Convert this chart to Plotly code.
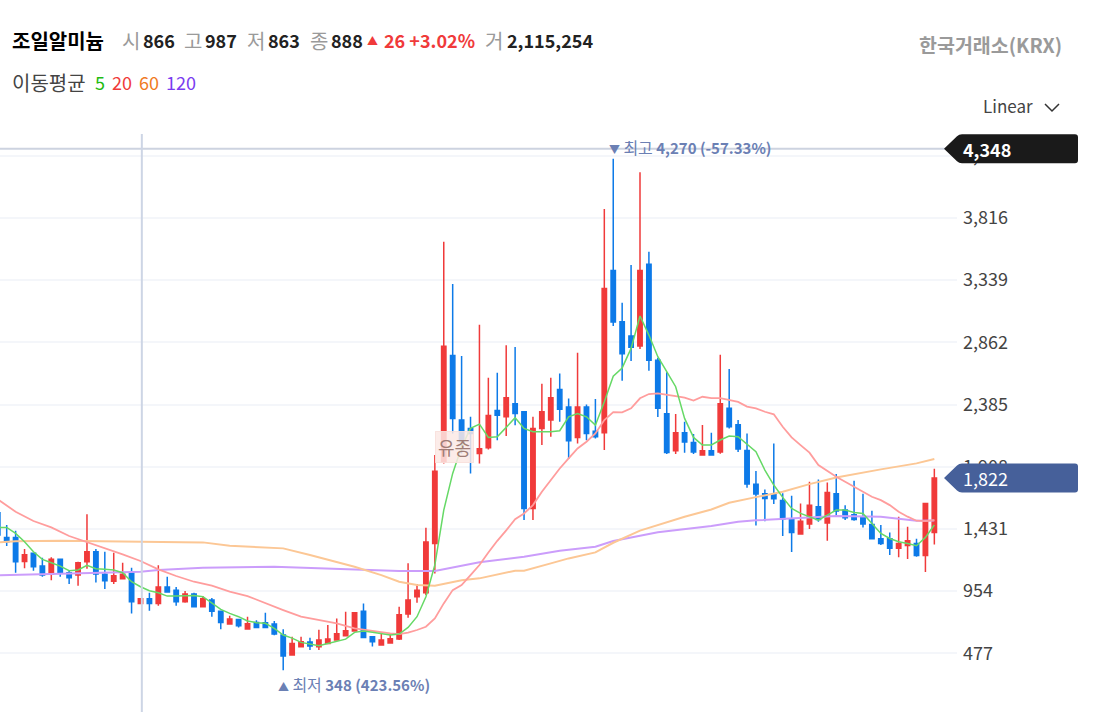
import plotly.graph_objects as go

FONT = "Noto Sans CJK KR"
WIDTH = 1102
HEIGHT = 712
PLOT_RIGHT = 957

UP_COLOR = "#f03a3a"
DOWN_COLOR = "#0d7ae8"

# one value per candle, oldest first (index -1 is cut off by the left edge)
opens = [
    1556, 1366, 1366, 1182, 1244, 1146, 1083, 1198, 1095, 1077, 1180, 1256, 1083, 1029, 1049, 1095,
    860, 896, 860, 985, 960, 873, 932, 835, 886, 799, 702, 737, 663, 714, 712, 702,
    617, 464, 528, 563, 528, 553, 579, 612, 648, 799, 604, 540, 556, 586, 778, 911,
    942, 1320, 1946, 2762, 2266, 2202, 2010, 2054, 2340, 2291, 2391, 2330, 1588, 2202, 2266, 2501,
    2366, 2133, 2366, 2181, 2169, 3414, 3021, 2911, 2834, 3461, 2724, 2315, 2031, 2169, 2095, 1998,
    2031, 2021, 2356, 2231, 2033, 1773, 1701, 1699, 1650, 1504, 1392, 1468, 1601, 1476, 1701, 1576,
    1540, 1517, 1466, 1356, 1356, 1282, 1305, 1320, 1228, 1404,
]
highs = [
    1556, 1461, 1417, 1277, 1249, 1210, 1213, 1205, 1116, 1180, 1543, 1277, 1256, 1249, 1172, 1134,
    896, 942, 1152, 1065, 985, 955, 942, 916, 901, 799, 765, 740, 758, 730, 788, 725,
    661, 604, 604, 597, 658, 694, 745, 796, 788, 860, 604, 625, 622, 835, 1167, 1008,
    1440, 1998, 3634, 3309, 2757, 2291, 2997, 2591, 2629, 2839, 2826, 2330, 2291, 2545, 2591, 2624,
    2432, 2782, 2386, 2427, 3885, 4270, 3166, 3455, 4166, 3558, 2745, 2632, 2312, 2254, 2159, 2228,
    2169, 2768, 2658, 2266, 2164, 1875, 1734, 2087, 1704, 1686, 1627, 1793, 1811, 1788, 1852, 1612,
    1801, 1701, 1571, 1461, 1404, 1525, 1448, 1356, 1627, 1893,
]
lows = [
    1370, 1300, 1095, 1129, 1111, 1065, 1037, 1065, 1008, 996, 1126, 1021, 970, 1008, 1044, 783,
    860, 804, 842, 942, 842, 865, 829, 829, 758, 661, 699, 676, 663, 676, 676, 615,
    348, 459, 528, 502, 502, 553, 574, 612, 643, 592, 530, 540, 556, 579, 750, 865,
    924, 1090, 1933, 2164, 2010, 1857, 1933, 2041, 2112, 2143, 2227, 1499, 1499, 2074, 2138, 2253,
    1967, 2087, 2112, 2125, 2036, 2987, 2568, 2719, 2811, 2645, 2289, 2006, 2006, 2016, 2006, 1998,
    1993, 2008, 2202, 2021, 1747, 1458, 1491, 1622, 1376, 1254, 1392, 1430, 1486, 1341, 1530, 1499,
    1494, 1443, 1351, 1307, 1231, 1213, 1200, 1218, 1100, 1312,
]
closes = [
    1384, 1333, 1180, 1233, 1141, 1077, 1198, 1095, 1057, 1172, 1256, 1085, 1034, 1072, 1083, 873,
    896, 860, 985, 947, 873, 932, 835, 896, 799, 714, 740, 689, 704, 676, 676, 625,
    456, 553, 566, 533, 579, 586, 627, 650, 788, 599, 566, 579, 589, 773, 886, 960,
    1331, 1873, 2833, 2279, 2100, 2164, 2046, 2302, 2304, 2437, 2317, 1588, 2202, 2330, 2437, 2350,
    2107, 2366, 2164, 2138, 3276, 3018, 2775, 2824, 3414, 2724, 2356, 2018, 2169, 2098, 2021, 2031,
    1998, 2392, 2215, 2044, 1775, 1699, 1665, 1663, 1507, 1404, 1491, 1612, 1504, 1711, 1568, 1517,
    1504, 1468, 1356, 1320, 1282, 1320, 1341, 1228, 1627, 1822,
]
candle_index = list(range(-1, len(opens) - 1))

ma5_index = list(range(-1, 105))
ma5_values = [
    1443, 1443, 1397, 1333, 1256, 1198, 1172, 1146, 1111, 1116, 1152, 1126, 1121, 1116, 1095, 1026,
    988, 957, 942, 916, 916, 919, 921, 911, 865, 814, 783, 758, 725, 712, 707, 668,
    617, 594, 561, 548, 535, 553, 571, 586, 638, 648, 638, 630, 617, 625, 676, 758,
    911, 1154, 1575, 1857, 2061, 2202, 2235, 2133, 2138, 2210, 2284, 2202, 2176, 2176, 2176, 2184,
    2291, 2317, 2291, 2227, 2406, 2602, 2666, 2816, 3064, 2918, 2752, 2637, 2522, 2279, 2133, 2075,
    2075, 2113, 2144, 2139, 2078, 2023, 1883, 1768, 1673, 1589, 1550, 1525, 1499, 1537, 1576, 1576,
    1558, 1550, 1473, 1397, 1358, 1333, 1320, 1302, 1366, 1461,
]

ma20_index = [
    -1, 1, 3, 5, 7, 9, 11, 13, 15, 17, 19, 21, 23, 25, 27, 29, 31, 33, 35, 37, 39, 41, 43, 44, 45,
    46, 47, 48, 49, 50, 51, 52, 53, 54, 55, 56, 57, 58, 59, 60, 61, 62, 63, 64, 65, 66, 67, 68, 69,
    70, 71, 72, 73, 74, 75, 76, 77, 78, 79, 80, 81, 82, 83, 84, 85, 86, 87, 88, 89, 90, 91, 92, 93,
    94, 95, 96, 97, 98, 99, 100, 101, 102, 103, 104,
]
ma20_values = [
    1658, 1563, 1492, 1443, 1377, 1331, 1282, 1236, 1185, 1121, 1070, 1026, 996, 950, 916, 860, 809,
    758, 730, 707, 668, 648, 630, 625, 635, 656, 681, 745, 860, 962, 1000, 1077, 1154, 1250, 1340,
    1420, 1506, 1550, 1614, 1716, 1805, 1895, 1972, 2048, 2100, 2164, 2266, 2327, 2325, 2356, 2433,
    2466, 2471, 2458, 2450, 2438, 2415, 2445, 2435, 2435, 2420, 2405, 2369, 2356, 2330, 2310, 2215,
    2133, 2074, 2016, 1921, 1875, 1831, 1793, 1755, 1716, 1678, 1652, 1614, 1563, 1525, 1494, 1491,
    1499,
]

ma60_index = [
    -1, 1, 6, 11, 15, 22, 25, 29, 31, 34, 37, 39, 42, 44, 46, 48, 51, 53, 57, 58, 61, 63, 66, 68,
    71, 73, 76, 79, 81, 84, 87, 90, 93, 98, 102, 104,
]
ma60_values = [
    1328, 1336, 1341, 1336, 1330, 1328, 1302, 1290, 1282, 1231, 1180, 1141, 1077, 1026, 1001, 996,
    1038, 1052, 1111, 1111, 1167, 1205, 1251, 1325, 1418, 1461, 1525, 1580, 1632, 1675, 1716, 1775,
    1826, 1888, 1934, 1967,
]

ma120_index = [-1, 15, 17, 22, 30, 33, 39, 44, 48, 51, 53, 58, 62, 66, 68, 71, 73, 79, 82, 84, 86, 93, 98, 102, 104]
ma120_values = [
    1075, 1103, 1116, 1134, 1141, 1134, 1121, 1108, 1108, 1149, 1175, 1218, 1264, 1295, 1338, 1379,
    1405, 1453, 1487, 1497, 1504, 1530, 1525, 1494, 1496,
]

price_ticks = [477, 954, 1431, 1908, 2385, 2862, 3339, 3816, 4293]
price_labels = ["477", "954", "1,431", "1,908", "2,385", "2,862", "3,339", "3,816", "4,293"]
axis_high_price = 4348
last_price = 1822
highest_price = 4270
lowest_price = 348


def px_x(value):
    return value / PLOT_RIGHT


def px_y(value):
    return 1 - value / HEIGHT


def label(x, y, text, size=18, color="#222222", bold=False, anchor="left"):
    if bold:
        text = "<b>%s</b>" % text
    return dict(
        xref="paper",
        yref="paper",
        x=px_x(x),
        y=px_y(y),
        text=text,
        showarrow=False,
        xanchor=anchor,
        yanchor="middle",
        xshift=-2,
        font=dict(family=FONT, size=size, color=color),
    )


def badge(price, color):
    # arrow tag sitting on the price axis, drawn in pixels around its price
    path = (
        "M -13,0 L 0,12.5 Q 2,14.5 5,14.5 L 118,14.5 Q 121,14.5 121,11.5 "
        "L 121,-11.5 Q 121,-14.5 118,-14.5 L 5,-14.5 Q 2,-14.5 0,-12.5 Z"
    )
    return dict(
        type="path",
        xref="paper",
        yref="y",
        xsizemode="pixel",
        ysizemode="pixel",
        xanchor=1.0,
        yanchor=price,
        path=path,
        fillcolor=color,
        line=dict(color=color, width=0),
        layer="above",
    )


def extreme_text(marker, word, value):
    return (
        '<span style="font-size:11px">%s</span> '
        '<span style="font-size:16px">%s</span> <b>%s</b>' % (marker, word, value)
    )


fig = go.Figure()
fig.add_trace(
    go.Candlestick(
        x=candle_index,
        open=opens,
        high=highs,
        low=lows,
        close=closes,
        increasing=dict(line=dict(color=UP_COLOR, width=1.5), fillcolor=UP_COLOR),
        decreasing=dict(line=dict(color=DOWN_COLOR, width=1.5), fillcolor=DOWN_COLOR),
        whiskerwidth=0,
        hoverinfo="skip",
    )
)
for index, values, color, line_width in [
    (ma120_index, ma120_values, "#cb9dfb", 2),
    (ma60_index, ma60_values, "#fcc795", 2),
    (ma20_index, ma20_values, "#ff9d9d", 1.8),
    (ma5_index, ma5_values, "#66d966", 1.5),
]:
    fig.add_trace(
        go.Scatter(x=index, y=values, mode="lines", line=dict(color=color, width=line_width), hoverinfo="skip")
    )

shapes = [
    dict(
        type="line", xref="paper", yref="y", x0=0, x1=px_x(946), y0=axis_high_price, y1=axis_high_price,
        line=dict(color="#cdd3e0", width=2), layer="above",
    ),
    dict(
        type="line", xref="x", yref="paper", x0=15.15, x1=15.15, y0=0, y1=px_y(134),
        line=dict(color="#cdd5e5", width=2), layer="above",
    ),
    badge(axis_high_price, "#1a1a1a"),
    badge(last_price, "#46609a"),
    dict(
        type="path", xref="paper", yref="paper",
        path="M %f,%f L %f,%f L %f,%f" % (px_x(1045), px_y(104), px_x(1052), px_y(111), px_x(1059), px_y(104)),
        line=dict(color="#333333", width=1.5), layer="above",
    ),
]

annotations = [
    label(12, 40, "조일알미늄", size=20, color="#000000", bold=True),
    label(122, 40, "시", size=20, color="#9a9a9a"),
    label(143, 40, "866", bold=True),
    label(184, 40, "고", size=20, color="#9a9a9a"),
    label(205, 40, "987", bold=True),
    label(247, 40, "저", size=20, color="#9a9a9a"),
    label(268, 40, "863", bold=True),
    label(310, 40, "종", size=20, color="#9a9a9a"),
    label(331, 40, "888", bold=True),
    label(367, 40, "▲", size=11, color=UP_COLOR),
    label(384, 40, "26 +3.02%", color=UP_COLOR, bold=True),
    label(485, 40, "거", size=20, color="#9a9a9a"),
    label(507, 40, "2,115,254", bold=True),
    label(919, 44, "한국거래소(KRX)", size=19.5, color="#9a9a9a", bold=True),
    label(12, 82, "이동평균", size=20, color="#444444"),
    label(95, 82, "5", color="#22bb11"),
    label(112, 82, "20", color=UP_COLOR),
    label(139, 82, "60", color="#f07b1f"),
    label(166, 82, "120", color="#7a3cf0"),
    label(983, 106, "Linear", size=17, color="#444444"),
    label(963, 149, "4,348", color="#ffffff", bold=True),
    label(963, 478, "1,822", color="#ffffff"),
    dict(
        x=68, y=highest_price, xref="x", yref="y", xanchor="left", yanchor="middle", xshift=-6, yshift=12,
        text=extreme_text("▼", "최고", "4,270 (-57.33%)"), showarrow=False,
        font=dict(family=FONT, size=15, color="#6b80b4"),
    ),
    dict(
        x=31, y=lowest_price, xref="x", yref="y", xanchor="left", yanchor="middle", xshift=-7, yshift=-14,
        text=extreme_text("▲", "최저", "348 (423.56%)"), showarrow=False,
        font=dict(family=FONT, size=15, color="#6b80b4"),
    ),
    dict(
        x=50.2, y=2059, xref="x", yref="y", showarrow=False, text="유종",
        font=dict(family=FONT, size=18, color="#a07d76"),
        bgcolor="rgba(252,233,229,0.85)", bordercolor="rgba(248,224,220,0.9)", borderwidth=1, borderpad=2,
    ),
]

fig.update_layout(
    width=WIDTH,
    height=HEIGHT,
    autosize=False,
    margin=dict(l=0, r=WIDTH - PLOT_RIGHT, t=0, b=0, pad=0),
    paper_bgcolor="#ffffff",
    plot_bgcolor="#ffffff",
    showlegend=False,
    boxgap=0.3,
    shapes=shapes,
    annotations=annotations,
    font=dict(family=FONT),
)
fig.update_xaxes(range=[-0.751, 106.54], visible=False, rangeslider_visible=False)
fig.update_yaxes(
    range=[27, 5488],
    side="right",
    tickmode="array",
    tickvals=price_ticks,
    ticktext=price_labels,
    tickfont=dict(family=FONT, size=18, color="#444444"),
    ticks="",
    ticklabelstandoff=5,
    showline=False,
    zeroline=False,
    showgrid=True,
    gridcolor="#f4f6fa",
    gridwidth=2,
)

fig.write_html(
    "out.html",
    config={"displayModeBar": False},
    post_script="document.body.style.margin = '0';",
)
